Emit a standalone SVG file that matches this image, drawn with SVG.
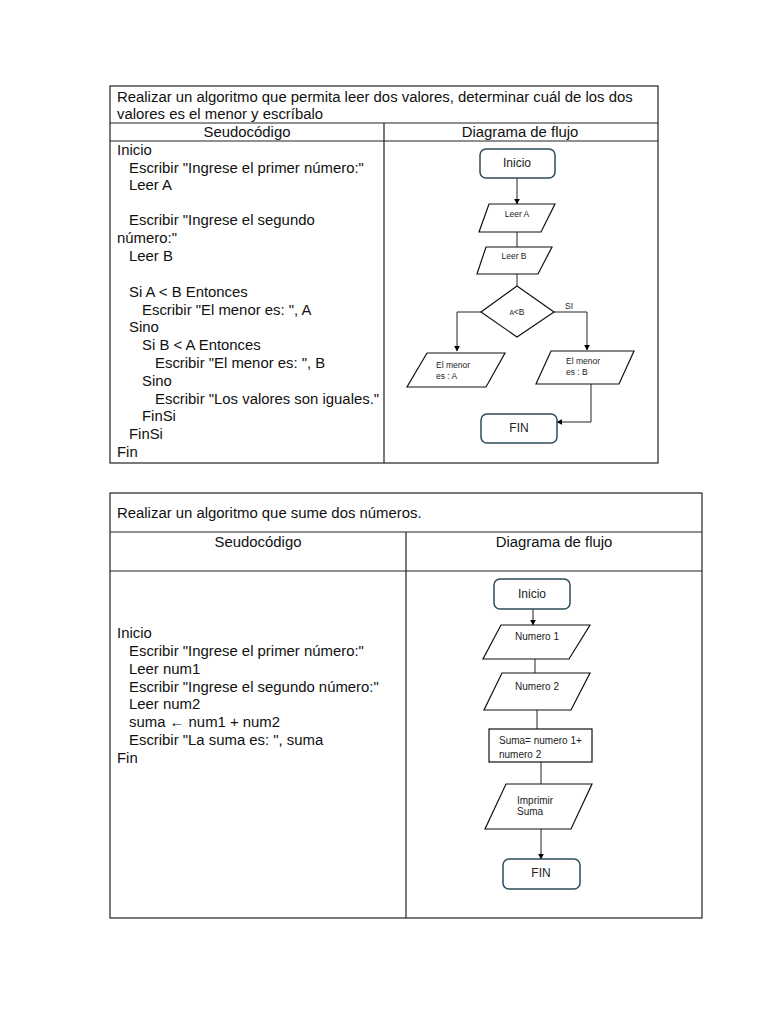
<svg xmlns="http://www.w3.org/2000/svg" width="768" height="1024" viewBox="0 0 768 1024">
<defs>
<marker id="ah" viewBox="0 0 10 10" refX="9" refY="5" markerWidth="6" markerHeight="6" orient="auto-start-reverse" markerUnits="userSpaceOnUse">
<path d="M0,0 L10,5 L0,10 z" fill="#000"/>
</marker>
<style>
.tbl{fill:none;stroke:#222;stroke-width:1.2}
.t{font-family:"Liberation Sans",Arial,sans-serif;font-size:14.9px;fill:#111}
.c{text-anchor:middle}
.sh{fill:#fff;stroke:#111;stroke-width:1.2}
.term{fill:#fff;stroke:#2e4b5a;stroke-width:1.5}
.s{font-family:"Liberation Sans",Arial,sans-serif;font-size:8.5px;fill:#222}
.s2{font-family:"Liberation Sans",Arial,sans-serif;font-size:10px;fill:#222}
.m{font-family:"Liberation Sans",Arial,sans-serif;font-size:12px;fill:#222}
.ln{fill:none;stroke:#222;stroke-width:1}
</style>
</defs>
<rect width="768" height="1024" fill="#fff"/>

<!-- Table 1 -->
<g id="table1">
<rect class="tbl" x="110" y="86" width="548" height="377"/>
<line class="tbl" x1="110" y1="123" x2="658" y2="123"/>
<line class="tbl" x1="110" y1="141" x2="658" y2="141"/>
<line class="tbl" x1="384" y1="123" x2="384" y2="463"/>
<text class="t" x="117" y="102">Realizar un algoritmo que permita leer dos valores, determinar cuál de los dos</text>
<text class="t" x="117" y="119">valores es el menor y escríbalo</text>
<text class="t c" x="247" y="137">Seudocódigo</text>
<text class="t c" x="520" y="137">Diagrama de flujo</text>
<text class="t" x="117" y="155">Inicio</text>
<text class="t" x="129" y="173">Escribir "Ingrese el primer número:"</text>
<text class="t" x="129" y="190">Leer A</text>
<text class="t" x="129" y="225">Escribir "Ingrese el segundo</text>
<text class="t" x="117" y="243">número:"</text>
<text class="t" x="129" y="261">Leer B</text>
<text class="t" x="129" y="297">Si A &lt; B Entonces</text>
<text class="t" x="142" y="315">Escribir "El menor es: ", A</text>
<text class="t" x="129" y="332">Sino</text>
<text class="t" x="142" y="350">Si B &lt; A Entonces</text>
<text class="t" x="155" y="368">Escribir "El menor es: ", B</text>
<text class="t" x="142" y="386">Sino</text>
<text class="t" x="155" y="404">Escribir "Los valores son iguales."</text>
<text class="t" x="142" y="421">FinSi</text>
<text class="t" x="129" y="439">FinSi</text>
<text class="t" x="117" y="457">Fin</text>
</g>

<!-- Flowchart 1 connectors -->
<g id="connectors1">
<line class="ln" x1="517" y1="178" x2="517" y2="204" marker-end="url(#ah)"/>
<line class="ln" x1="517" y1="232" x2="517" y2="247"/>
<line class="ln" x1="517" y1="274" x2="517" y2="286"/>
<polyline class="ln" points="481,312 457,312 457,351" marker-end="url(#ah)"/>
<polyline class="ln" points="554,312 587,312 587,350" marker-end="url(#ah)"/>
<polyline class="ln" points="591,384 591,422 557,422" marker-end="url(#ah)"/>
<text class="s" x="565" y="309">SI</text>
</g>

<g id="f1-inicio">
<rect class="term" x="480" y="149" width="75" height="29" rx="6"/>
<text class="m c" x="517" y="167">Inicio</text>
</g>
<g id="f1-leerA">
<polygon class="sh" points="489,204 555,204 541,232 479,232"/>
<text class="s c" x="517" y="217">Leer A</text>
</g>
<g id="f1-leerB">
<polygon class="sh" points="486,247 552,247 538,274 477,274"/>
<text class="s c" x="514" y="259">Leer B</text>
</g>
<g id="f1-decision">
<polygon class="sh" points="517,286 554,312 517,337 481,312"/>
<text class="s c" x="517" y="315"><tspan font-size="6.5">A</tspan>&lt;B</text>
</g>
<g id="f1-menorA">
<polygon class="sh" points="427,353 505,353 486,387 407,387"/>
<text class="s" x="436" y="368">El menor</text>
<text class="s" x="436" y="379">es : A</text>
</g>
<g id="f1-menorB">
<polygon class="sh" points="551,351 634,351 619,384 536,384"/>
<text class="s" x="566" y="364">El menor</text>
<text class="s" x="566" y="375">es : B</text>
</g>
<g id="f1-fin">
<rect class="term" x="481" y="414" width="76" height="29" rx="6"/>
<text class="m c" x="519" y="432">FIN</text>
</g>

<!-- Table 2 -->
<g id="table2">
<rect class="tbl" x="110" y="493" width="592" height="425"/>
<line class="tbl" x1="110" y1="532" x2="702" y2="532"/>
<line class="tbl" x1="110" y1="571" x2="702" y2="571"/>
<line class="tbl" x1="406" y1="532" x2="406" y2="918"/>
<text class="t" x="117" y="518">Realizar un algoritmo que sume dos números.</text>
<text class="t c" x="258" y="547">Seudocódigo</text>
<text class="t c" x="554" y="547">Diagrama de flujo</text>
<text class="t" x="117" y="638">Inicio</text>
<text class="t" x="129" y="656">Escribir "Ingrese el primer número:"</text>
<text class="t" x="129" y="674">Leer num1</text>
<text class="t" x="129" y="692">Escribir "Ingrese el segundo número:"</text>
<text class="t" x="129" y="709">Leer num2</text>
<text class="t" x="129" y="727">suma ← num1 + num2</text>
<text class="t" x="129" y="745">Escribir "La suma es: ", suma</text>
<text class="t" x="117" y="763">Fin</text>
</g>

<g id="connectors2">
<line class="ln" x1="533" y1="609" x2="533" y2="625" marker-end="url(#ah)"/>
<line class="ln" x1="535" y1="659" x2="535" y2="673"/>
<line class="ln" x1="537" y1="710" x2="537" y2="729"/>
<line class="ln" x1="541" y1="762" x2="541" y2="784"/>
<line class="ln" x1="541" y1="829" x2="541" y2="859" marker-end="url(#ah)"/>
</g>

<g id="f2-inicio">
<rect class="term" x="494" y="579" width="76" height="30" rx="6"/>
<text class="m c" x="532" y="598">Inicio</text>
</g>
<g id="f2-num1">
<polygon class="sh" points="501,625 590,625 569,659 483,659"/>
<text class="s2 c" x="537" y="640">Numero 1</text>
</g>
<g id="f2-num2">
<polygon class="sh" points="502,673 590,673 571,710 484,710"/>
<text class="s2 c" x="537" y="690">Numero 2</text>
</g>
<g id="f2-suma">
<rect class="sh" x="489" y="729" width="103" height="33"/>
<text class="s2" x="499" y="744">Suma= numero 1+</text>
<text class="s2" x="499" y="758">numero 2</text>
</g>
<g id="f2-imprimir">
<polygon class="sh" points="506,784 592,784 571,829 485,829"/>
<text class="s2" x="517" y="804">Imprimir</text>
<text class="s2" x="517" y="815">Suma</text>
</g>
<g id="f2-fin">
<rect class="term" x="503" y="859" width="77" height="30" rx="6"/>
<text class="m c" x="541" y="877">FIN</text>
</g>
</svg>
